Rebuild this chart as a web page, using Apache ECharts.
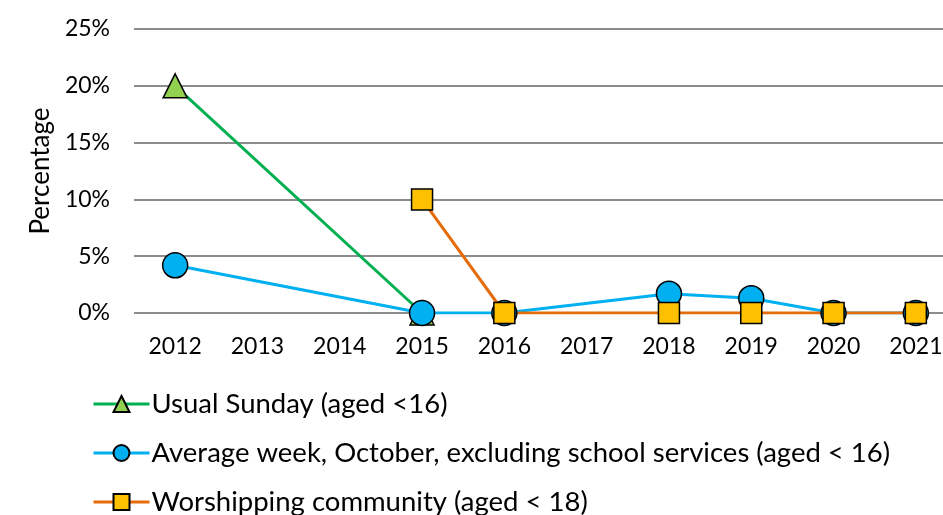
<!DOCTYPE html>
<html><head><meta charset="utf-8">
<script src="https://cdn.jsdelivr.net/npm/echarts@6/dist/echarts.min.js"></script>
<style>html,body{margin:0;padding:0;background:#fff}#c{width:943px;height:515px}</style>
</head><body><div id="c"></div>
<script>
const years = ['2012','2013','2014','2015','2016','2017','2018','2019','2020','2021'];
const usualSunday = [20, null, null, 0, null, null, null, null, null, null];
const averageWeek = [4.2, null, null, 0, 0, null, 1.7, 1.3, 0, 0];
const worshipping = [null, null, null, 10, 0, null, 0, 0, 0, 0];
const yTicks = [0, 5, 10, 15, 20, 25];
const names = ['Usual Sunday (aged <16)', 'Average week, October, excluding school services (aged < 16)', 'Worshipping community (aged < 18)'];

const font = 'Lato, "Open Sans", sans-serif';
const chart = echarts.init(document.getElementById('c'));
function mk(name, data, sym, size, lineColor, fill) {
  return {
    name, type: 'line', data, connectNulls: true,
    symbol: sym, symbolSize: size,
    lineStyle: {color: lineColor, width: 3},
    itemStyle: {color: fill, borderColor: '#000', borderWidth: 1.5},
    emphasis: {disabled: true}
  };
}
function leg(name, top) {
  return {
    orient: 'vertical', left: 92, top, padding: 0, itemGap: 0, itemWidth: 56, itemHeight: 20,
    lineStyle: {width: 3},
    textStyle: {color: '#000', fontSize: 27.5, fontFamily: font, padding: [0,0,0,-3]},
    data: [name]
  };
}
chart.setOption({
  animation: false,
  textStyle: {fontFamily: font},
  grid: {left: 134, top: 29, right: -14, height: 284, outerBoundsMode: 'none', containLabel: false},
  xAxis: {
    type: 'category', data: years, boundaryGap: true,
    axisLine: {show: false}, axisTick: {show: false},
    axisLabel: {color: '#000', fontSize: 23, margin: 22, fontFamily: font}
  },
  yAxis: {
    type: 'value', min: 0, max: 25, interval: 5,
    name: 'Percentage', nameLocation: 'middle', nameGap: 79, nameRotate: 90,
    nameTextStyle: {color: '#000', fontSize: 26, fontFamily: font},
    axisLabel: {color: '#000', fontSize: 23, margin: 24, formatter: v => yTicks.includes(v) ? v + '%' : '', fontFamily: font},
    splitLine: {lineStyle: {color: '#8c8c8c', width: 2}},
    axisLine: {show: false}, axisTick: {show: false}
  },
  legend: [leg(names[0], 390), leg(names[1], 439), leg(names[2], 488)],
  series: [
    mk(names[0], usualSunday, 'triangle', 24, '#00B050', '#92D050'),
    mk(names[1], averageWeek, 'circle', 25, '#00B0F0', '#00B0F0'),
    mk(names[2], worshipping, 'rect', 21, '#E46C0A', '#FFC000')
  ]
});
</script></body></html>
